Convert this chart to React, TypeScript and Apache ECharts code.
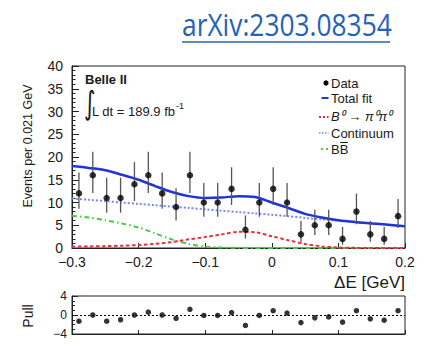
import { useEffect, useRef } from 'react';
import * as echarts from 'echarts';

// ---- data ----
const binCenters = [
  -0.28958, -0.26875, -0.24792, -0.22708, -0.20625, -0.18542, -0.16458, -0.14375,
  -0.12292, -0.10208, -0.08125, -0.06042, -0.03958, -0.01875, 0.00208, 0.02292,
  0.04375, 0.06458, 0.08542, 0.10625, 0.12708, 0.14792, 0.16875, 0.18958,
];
const counts = [12, 16, 11, 11, 14, 16, 12, 9, 16, 10, 10, 13, 4, 10, 13, 10, 3, 5, 5, 2, 8, 3, 2, 7];
const errLow = [8.6, 12.08, 7.74, 7.74, 10.33, 12.08, 8.6, 6.06, 12.08, 6.89, 6.89, 9.46, 2.09, 6.89, 9.46, 6.89, 1.37, 2.84, 2.84, 0.71, 5.23, 1.37, 0.71, 4.42];
const errHigh = [16.61, 21.17, 15.45, 15.45, 18.9, 21.17, 16.61, 13.13, 21.17, 14.29, 14.29, 17.76, 7.16, 14.29, 17.76, 14.29, 5.92, 8.38, 8.38, 4.64, 11.95, 5.92, 4.64, 10.77];
const pulls = [-1.3, 0, -1.3, -1.0, 0, 0.6, 0, -0.7, 1.2, -0.1, -0.1, 0.5, -2.2, -0.1, 0.9, 0.4, -1.6, -0.6, -0.4, -1.5, 0.9, -0.8, -1.1, 0.9];

const curveX = [-0.3, -0.275, -0.25, -0.225, -0.2, -0.175, -0.15, -0.125, -0.1, -0.075, -0.05, -0.025, 0, 0.025, 0.05, 0.075, 0.1, 0.125, 0.15, 0.175, 0.2];
const totalFit = [18.0, 17.6, 17.1, 16.1, 15.0, 13.6, 12.3, 11.4, 11.0, 11.1, 11.4, 11.2, 10.0, 8.8, 7.5, 6.7, 6.1, 5.7, 5.4, 5.1, 4.8];
const continuum = [10.9, 10.6, 10.3, 10.0, 9.7, 9.4, 9.1, 8.8, 8.5, 8.2, 7.9, 7.6, 7.3, 7.0, 6.6, 6.3, 6.0, 5.7, 5.4, 5.1, 4.8];
const signal = [0.3, 0.35, 0.4, 0.5, 0.65, 0.9, 1.3, 1.9, 2.4, 3.0, 3.55, 3.45, 2.6, 1.7, 0.9, 0.35, 0.1, 0.03, 0, 0, 0];
const bbbar = [7.1, 6.7, 6.1, 5.4, 4.5, 3.2, 1.9, 0.9, 0.3, 0.1, 0.03, 0, 0, 0, 0, 0, 0, 0, 0, 0, 0];

const legendLabels = ['Data', 'Total fit', 'B\u2070 \u2192 \u03c0\u2070\u03c0\u2070', 'Continuum', 'BB'];

const FONT = '"Liberation Sans", Arial, Helvetica, sans-serif';
const BLUE = '#2233d8';
const CONT = '#7a86f2';
const RED = '#e3333f';
const GREEN = '#44cc44';
const INK = '#1a1a1a';

function measure(text: string, font: string): number {
  const c = document.createElement('canvas').getContext('2d');
  if (!c) return text.length * 7;
  c.font = font;
  return c.measureText(text).width;
}

function fmtTick(v: number): string {
  const r = Math.round(v * 10) / 10;
  if (r === 0) return '0';
  return r < 0 ? '\u2212' + String(Math.abs(r)) : String(r);
}
function fmtInt(v: number): string {
  const r = Math.round(v);
  if (r === 0) return '0';
  return r < 0 ? '\u2212' + String(Math.abs(r)) : String(r);
}

const zip = (xs: number[], ys: number[]) => xs.map((x, i) => [x, ys[i]]);

export default function App() {
  const ref = useRef<HTMLDivElement>(null);
  useEffect(() => {
    if (!ref.current) return;
    const chart = echarts.init(ref.current, undefined, { renderer: 'svg' });

    const lumiFont = `13px ${FONT}`;
    const lumiText = 'L dt = 189.9 fb';
    const lumiW = measure(lumiText, lumiFont);
    const legFont = `13px ${FONT}`;
    const bW = measure('B', legFont);

    const lineSeries = (name: string, data: number[], color: string, width: number, type: any) => ({
      name,
      type: 'line',
      xAxisIndex: 0,
      yAxisIndex: 0,
      data: zip(curveX, data),
      smooth: 0.3,
      symbol: 'none',
      lineStyle: { color, width, type },
      z: 2,
    });

    const legX = 331;
    const legY = [83, 98, 116, 133, 149];

    const option: any = {
      animation: false,
      textStyle: { fontFamily: FONT },
      grid: [
        { left: 72, top: 66, width: 333, height: 182, show: true, borderColor: '#222', borderWidth: 1 },
        { left: 72, top: 296, width: 333, height: 38, show: true, borderColor: '#222', borderWidth: 1 },
      ],
      xAxis: [
        {
          type: 'value', gridIndex: 0, min: -0.3, max: 0.2, interval: 0.1,
          axisLine: { show: true, onZero: false, lineStyle: { color: '#222', width: 1 } },
          axisTick: { show: true, inside: true, length: 5, lineStyle: { color: '#222' } },
          splitLine: { show: false },
          axisLabel: { formatter: fmtTick, fontSize: 14, lineHeight: 14, color: INK, margin: 7, fontFamily: FONT },
        },
        {
          type: 'value', gridIndex: 1, min: -0.3, max: 0.2, interval: 0.1,
          axisLine: { show: true, onZero: false, lineStyle: { color: '#222', width: 1 } },
          axisTick: { show: true, inside: true, length: 4, lineStyle: { color: '#222' } },
          splitLine: { show: false },
          axisLabel: { show: false },
        },
      ],
      yAxis: [
        {
          type: 'value', gridIndex: 0, min: 0, max: 40, interval: 5,
          axisLine: { show: true, onZero: false, lineStyle: { color: '#222', width: 1 } },
          axisTick: { show: true, inside: true, length: 7, lineStyle: { color: '#222' } },
          minorTick: { show: true, splitNumber: 5, length: 3.5, lineStyle: { color: '#222' } },
          splitLine: { show: false },
          axisLabel: { fontSize: 14, lineHeight: 11, color: INK, margin: 9, fontFamily: FONT },
        },
        {
          type: 'value', gridIndex: 1, min: -4, max: 4, interval: 4,
          axisLine: { show: true, onZero: false, lineStyle: { color: '#222', width: 1 } },
          axisTick: { show: true, inside: true, length: 6, lineStyle: { color: '#222' } },
          minorTick: { show: true, splitNumber: 4, length: 3, lineStyle: { color: '#222' } },
          splitLine: { show: false },
          axisLabel: { fontSize: 12, color: INK, margin: 5, formatter: fmtInt, fontFamily: FONT },
        },
      ],
      series: [
        lineSeries('Continuum', continuum, CONT, 2, [2, 2]),
        lineSeries('BBbar', bbbar, GREEN, 2, [5, 3, 1.5, 3]),
        lineSeries('Signal', signal, RED, 2, [3.5, 2.5]),
        lineSeries('Total fit', totalFit, BLUE, 2.5, 'solid'),
        {
          name: 'errors',
          type: 'custom',
          xAxisIndex: 0,
          yAxisIndex: 0,
          data: binCenters.map((c, i) => [c, errLow[i], errHigh[i]]),
          encode: { x: 0, y: [1, 2] },
          renderItem: (params: any, api: any) => {
            const p1 = api.coord([api.value(0), api.value(1)]);
            const p2 = api.coord([api.value(0), api.value(2)]);
            return {
              type: 'line',
              shape: { x1: p1[0], y1: p1[1], x2: p2[0], y2: p2[1] },
              style: { stroke: '#555', lineWidth: 1.3 },
            };
          },
          z: 3,
        },
        {
          name: 'Data',
          type: 'scatter',
          xAxisIndex: 0,
          yAxisIndex: 0,
          data: zip(binCenters, counts),
          symbol: 'circle',
          symbolSize: 6.5,
          itemStyle: { color: '#000' },
          z: 4,
        },
        {
          name: 'Pull',
          type: 'scatter',
          xAxisIndex: 1,
          yAxisIndex: 1,
          data: zip(binCenters, pulls),
          symbol: 'circle',
          symbolSize: 5.5,
          itemStyle: { color: '#000' },
          z: 4,
          markLine: {
            silent: true,
            symbol: 'none',
            label: { show: false },
            lineStyle: { color: '#000', type: [2, 2], width: 1.2 },
            data: [{ yAxis: 0 }],
          },
        },
      ],
      graphic: [
        // arXiv link
        {
          type: 'text', x: 182, y: 24, scaleX: 0.85,
          style: { text: 'arXiv:2303.08354', fontSize: 31, fontFamily: '"Open Sans", "Noto Sans", sans-serif', fill: '#2462b8', align: 'left', verticalAlign: 'middle' },
        },
        { type: 'line', shape: { x1: 182, y1: 42, x2: 390, y2: 42 }, style: { stroke: '#2462b8', lineWidth: 1.5 } },
        // axis titles
        {
          type: 'text', x: 28, y: 146, rotation: Math.PI / 2,
          style: { text: 'Events per 0.021 GeV', fontSize: 12.5, fontFamily: FONT, fill: INK, align: 'center', verticalAlign: 'middle' },
        },
        {
          type: 'text', x: 405, y: 282,
          style: { text: '\u0394E [GeV]', fontSize: 17, fontFamily: FONT, fill: INK, align: 'right', verticalAlign: 'middle' },
        },
        {
          type: 'text', x: 28, y: 316, rotation: Math.PI / 2,
          style: { text: 'Pull', fontSize: 14, fontFamily: FONT, fill: INK, align: 'center', verticalAlign: 'middle' },
        },
        // Belle II label
        {
          type: 'text', x: 85, y: 79,
          style: { text: 'Belle II', fontSize: 13, fontWeight: 'bold', fontFamily: FONT, fill: INK, align: 'left', verticalAlign: 'middle' },
        },
        {
          type: 'text', x: 84, y: 103, scaleY: 1.45,
          style: { text: '\u222b', fontSize: 22, fontFamily: '"DejaVu Sans", sans-serif', fill: INK, align: 'left', verticalAlign: 'middle' },
        },
        {
          type: 'text', x: 92, y: 111,
          style: { text: lumiText, fontSize: 13, fontFamily: FONT, fill: INK, align: 'left', verticalAlign: 'middle' },
        },
        {
          type: 'text', x: 92 + lumiW + 0.5, y: 106,
          style: { text: '-1', fontSize: 9, fontFamily: FONT, fill: INK, align: 'left', verticalAlign: 'middle' },
        },
        // legend symbols
        { type: 'circle', shape: { cx: 326, cy: legY[0], r: 2.6 }, style: { fill: '#000' } },
        { type: 'line', shape: { x1: 321.5, y1: legY[1], x2: 328.5, y2: legY[1] }, style: { stroke: BLUE, lineWidth: 2 } },
        { type: 'line', shape: { x1: 319, y1: legY[2] + 1, x2: 328.5, y2: legY[2] + 1 }, style: { stroke: RED, lineWidth: 2, lineDash: [2, 2] } },
        { type: 'line', shape: { x1: 319, y1: legY[3], x2: 328.5, y2: legY[3] }, style: { stroke: CONT, lineWidth: 1.5, lineDash: [1.5, 1.5] } },
        { type: 'line', shape: { x1: 321, y1: legY[4], x2: 328.5, y2: legY[4] }, style: { stroke: GREEN, lineWidth: 2, lineDash: [2, 3] } },
        // legend texts
        ...legendLabels.map((t, i) => ({
          type: 'text', x: legX, y: legY[i],
          style: {
            text: t, fontSize: 13, fontFamily: FONT, fill: INK, align: 'left', verticalAlign: 'middle',
            fontStyle: i === 2 ? 'italic' : 'normal',
          },
        })),
        { type: 'line', shape: { x1: legX + bW + 0.5, y1: legY[4] - 6.5, x2: legX + 2 * bW - 0.5, y2: legY[4] - 6.5 }, style: { stroke: INK, lineWidth: 1 } },
      ],
    };

    chart.setOption(option);
    return () => chart.dispose();
  }, []);

  return <div ref={ref} style={{ position: 'absolute', left: 0, top: 0, width: 423, height: 346, background: '#fff' }} />;
}
